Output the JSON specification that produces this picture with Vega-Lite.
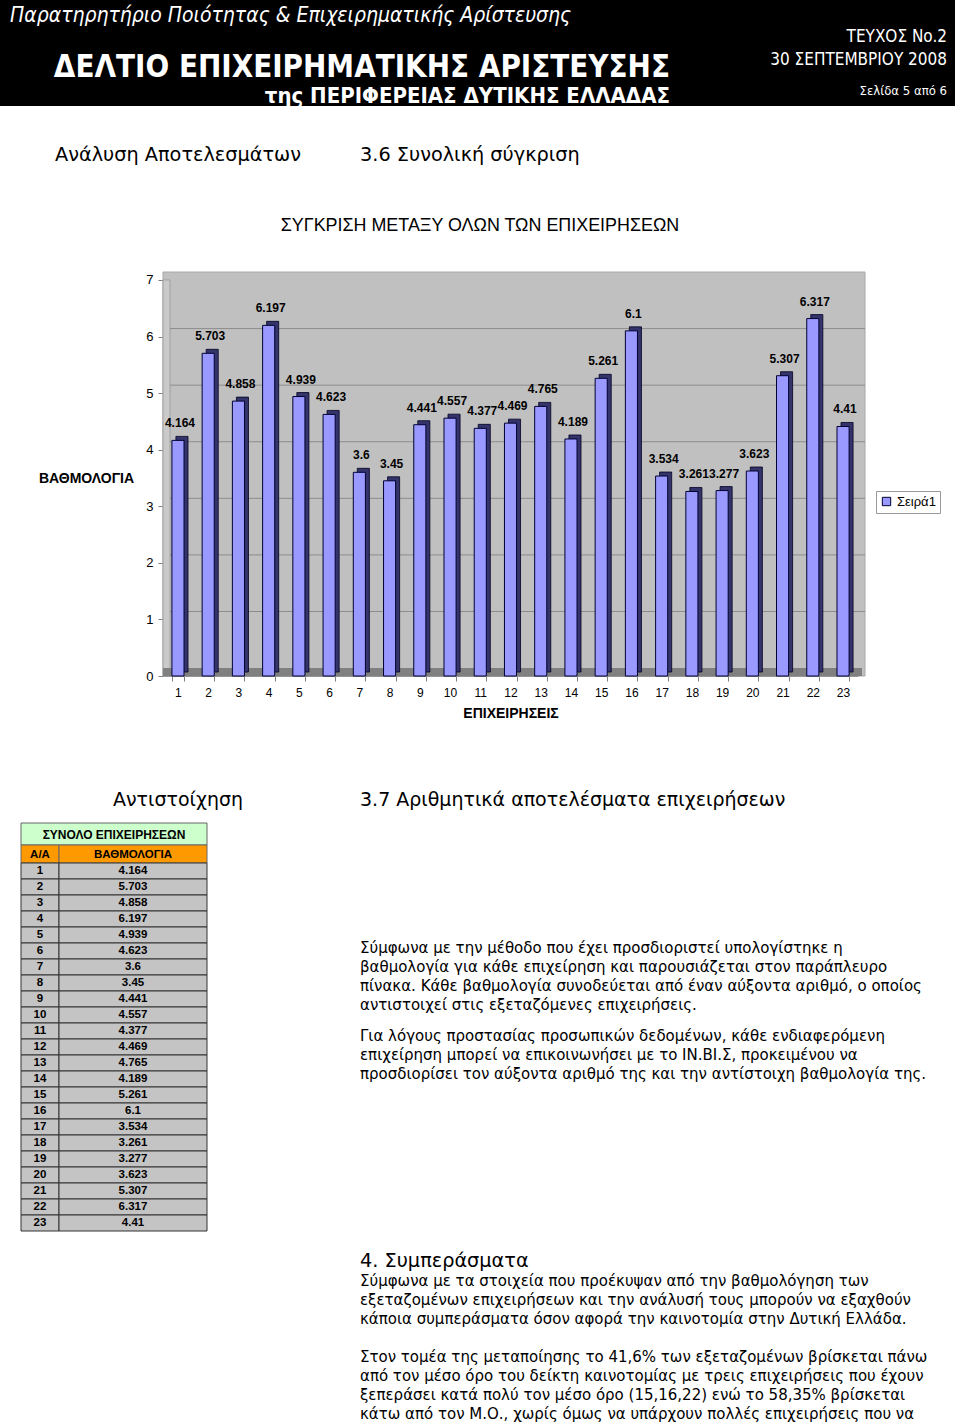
{
  "$schema": "https://vega.github.io/schema/vega-lite/v6.json",
  "padding": 0,
  "spacing": 0,
  "bounds": "flush",
  "background": "white",
  "config": {
    "view": {"stroke": null},
    "font": "Liberation Sans",
    "axis": {"labelColor": "black", "titleColor": "black", "labelFont": "Liberation Sans", "titleFont": "Liberation Sans"}
  },
  "datasets": {
    "scores": [
      {"n": 1, "v": 4.164}, {"n": 2, "v": 5.703}, {"n": 3, "v": 4.858}, {"n": 4, "v": 6.197},
      {"n": 5, "v": 4.939}, {"n": 6, "v": 4.623}, {"n": 7, "v": 3.6}, {"n": 8, "v": 3.45},
      {"n": 9, "v": 4.441}, {"n": 10, "v": 4.557}, {"n": 11, "v": 4.377}, {"n": 12, "v": 4.469},
      {"n": 13, "v": 4.765}, {"n": 14, "v": 4.189}, {"n": 15, "v": 5.261}, {"n": 16, "v": 6.1},
      {"n": 17, "v": 3.534}, {"n": 18, "v": 3.261}, {"n": 19, "v": 3.277}, {"n": 20, "v": 3.623},
      {"n": 21, "v": 5.307}, {"n": 22, "v": 6.317}, {"n": 23, "v": 4.41}
    ]
  },
  "vconcat": [
    {
      "width": 955,
      "height": 106,
      "view": {"fill": "black", "stroke": null},
      "data": {"values": [{}]},
      "layer": [
        {"mark": {"type": "text", "text": "Παρατηρητήριο Ποιότητας & Επιχειρηματικής Αρίστευσης", "x": 10, "y": 16, "align": "left", "baseline": "middle", "font": "DejaVu Sans Condensed", "fontStyle": "italic", "fontSize": 21, "color": "white"}},
        {"mark": {"type": "text", "text": "ΔΕΛΤΙΟ ΕΠΙΧΕΙΡΗΜΑΤΙΚΗΣ ΑΡΙΣΤΕΥΣΗΣ", "x": 670, "y": 68, "align": "right", "baseline": "middle", "font": "DejaVu Sans Condensed", "fontWeight": "bold", "fontSize": 31, "color": "white"}},
        {"mark": {"type": "text", "text": "της ΠΕΡΙΦΕΡΕΙΑΣ ΔΥΤΙΚΗΣ ΕΛΛΑΔΑΣ", "x": 670, "y": 96, "align": "right", "baseline": "middle", "font": "DejaVu Sans Condensed", "fontWeight": "bold", "fontSize": 22, "color": "white"}},
        {"mark": {"type": "text", "text": "ΤΕΥΧΟΣ No.2", "x": 947, "y": 37, "align": "right", "baseline": "middle", "font": "DejaVu Sans Condensed", "fontSize": 17, "color": "white"}},
        {"mark": {"type": "text", "text": "30 ΣΕΠΤΕΜΒΡΙΟΥ 2008", "x": 947, "y": 60, "align": "right", "baseline": "middle", "font": "DejaVu Sans Condensed", "fontSize": 17, "color": "white"}},
        {"mark": {"type": "text", "text": "Σελίδα 5 από 6", "x": 947, "y": 91, "align": "right", "baseline": "middle", "font": "DejaVu Sans Condensed", "fontSize": 13, "color": "white"}}
      ]
    },
    {
      "width": 960,
      "height": 166,
      "data": {"values": [{}]},
      "layer": [
        {"mark": {"type": "text", "text": "Ανάλυση Αποτελεσμάτων", "x": 55, "y": 49, "align": "left", "baseline": "middle", "font": "DejaVu Sans", "fontSize": 19.3, "color": "black"}},
        {"mark": {"type": "text", "text": "3.6 Συνολική σύγκριση", "x": 360, "y": 49, "align": "left", "baseline": "middle", "font": "DejaVu Sans", "fontSize": 19.3, "color": "black"}},
        {"mark": {"type": "text", "text": "ΣΥΓΚΡΙΣΗ ΜΕΤΑΞΥ ΟΛΩΝ ΤΩΝ ΕΠΙΧΕΙΡΗΣΕΩΝ", "x": 480, "y": 120, "align": "center", "baseline": "middle", "font": "Liberation Sans", "fontSize": 17.9, "color": "black"}}
      ]
    },
    {
      "width": 960,
      "height": 404,
      "layer": [
        {"data": {"values": [{}]}, "mark": {"type": "rect", "color": "#c0c0c0", "stroke": "#a8a8a8", "strokeWidth": 1, "x": 163, "x2": 865}, "encoding": {"y": {"datum": 7.14, "type": "quantitative", "scale": {"domain": [0, 7.14], "nice": false, "zero": true}}, "y2": {"datum": 0}}},
        {"data": {"values": [{}]}, "mark": {"type": "rect", "color": "#cacaca", "stroke": "#a0a0a0", "strokeWidth": 1, "x": 163, "x2": 170}, "encoding": {"y": {"datum": 7, "type": "quantitative"}, "y2": {"datum": 0}}},
        {"data": {"values": [{}]}, "mark": {"type": "rule", "color": "#8c8c8c", "x": 170, "x2": 865}, "encoding": {"y": {"datum": 1.14, "type": "quantitative"}}},
        {"data": {"values": [{}]}, "mark": {"type": "rule", "color": "#8c8c8c", "x": 170, "x2": 865}, "encoding": {"y": {"datum": 2.14, "type": "quantitative"}}},
        {"data": {"values": [{}]}, "mark": {"type": "rule", "color": "#8c8c8c", "x": 170, "x2": 865}, "encoding": {"y": {"datum": 3.14, "type": "quantitative"}}},
        {"data": {"values": [{}]}, "mark": {"type": "rule", "color": "#8c8c8c", "x": 170, "x2": 865}, "encoding": {"y": {"datum": 4.14, "type": "quantitative"}}},
        {"data": {"values": [{}]}, "mark": {"type": "rule", "color": "#8c8c8c", "x": 170, "x2": 865}, "encoding": {"y": {"datum": 5.14, "type": "quantitative"}}},
        {"data": {"values": [{}]}, "mark": {"type": "rule", "color": "#8c8c8c", "x": 170, "x2": 865}, "encoding": {"y": {"datum": 6.14, "type": "quantitative"}}},
        {"data": {"values": [{}]}, "mark": {"type": "rect", "color": "#808080", "x": 163, "x2": 862}, "encoding": {"y": {"datum": 0.14, "type": "quantitative"}, "y2": {"datum": 0}}},
        {
          "data": {"name": "scores"},
          "mark": {"type": "bar", "fill": "#34346a", "xOffset": 4, "yOffset": -4, "stroke": "#000022", "strokeWidth": 0.8},
          "encoding": {
            "x": {
              "field": "n", "type": "ordinal",
              "scale": {"range": [163, 858], "paddingInner": 0.6, "paddingOuter": 0.295},
              "axis": {"title": "ΕΠΙΧΕΙΡΗΣΕΙΣ", "labelAngle": 0, "labelFontSize": 12, "bandPosition": 0.5, "ticks": true, "tickBand": "extent", "tickSize": 5, "labelPadding": 6, "tickColor": "#808080", "domainColor": "#808080", "titleFontSize": 14, "titleFontWeight": "bold", "titlePadding": 8}
            },
            "y": {
              "field": "v", "type": "quantitative",
              "axis": {"title": "ΒΑΘΜΟΛΟΓΙΑ", "offset": -163, "values": [0, 1, 2, 3, 4, 5, 6, 7], "format": "d", "grid": false, "labelFontSize": 13, "tickSize": 5, "labelPadding": 5, "tickColor": "#808080", "domainColor": "#808080", "titleAngle": 0, "titleX": -77, "titleY": 206, "titleAlign": "center", "titleBaseline": "middle", "titleFontSize": 14, "titleFontWeight": "bold"}
            }
          }
        },
        {
          "data": {"name": "scores"},
          "mark": {"type": "bar", "stroke": "#000033", "strokeWidth": 1},
          "encoding": {
            "x": {
              "field": "n", "type": "ordinal",
              "scale": {"range": [163, 858], "paddingInner": 0.6, "paddingOuter": 0.295},
              "axis": {"title": "ΕΠΙΧΕΙΡΗΣΕΙΣ", "labelAngle": 0, "labelFontSize": 12, "bandPosition": 0.5, "ticks": true, "tickBand": "extent", "tickSize": 5, "labelPadding": 6, "tickColor": "#808080", "domainColor": "#808080", "titleFontSize": 14, "titleFontWeight": "bold", "titlePadding": 8}
            },
            "y": {
              "field": "v", "type": "quantitative",
              "axis": {"title": "ΒΑΘΜΟΛΟΓΙΑ", "offset": -163, "values": [0, 1, 2, 3, 4, 5, 6, 7], "format": "d", "grid": false, "labelFontSize": 13, "tickSize": 5, "labelPadding": 5, "tickColor": "#808080", "domainColor": "#808080", "titleAngle": 0, "titleX": -77, "titleY": 206, "titleAlign": "center", "titleBaseline": "middle", "titleFontSize": 14, "titleFontWeight": "bold"}
            },
            "color": {
              "datum": "Σειρά1",
              "scale": {"range": ["#9999ff"]},
              "legend": {"orient": "none", "legendX": 876, "legendY": 491, "title": null, "strokeColor": "#999999", "padding": 4, "symbolType": "square", "symbolSize": 70, "symbolStrokeColor": "#000033", "symbolStrokeWidth": 1, "labelFontSize": 13, "labelFont": "Liberation Sans", "labelColor": "black"}
            }
          }
        },
        {
          "data": {"name": "scores"},
          "mark": {"type": "text", "dy": -13, "dx": 2, "baseline": "alphabetic", "fontWeight": "bold", "fontSize": 12, "font": "Liberation Sans", "color": "black"},
          "encoding": {
            "x": {
              "field": "n", "type": "ordinal",
              "scale": {"range": [163, 858], "paddingInner": 0.6, "paddingOuter": 0.295},
              "axis": {"title": "ΕΠΙΧΕΙΡΗΣΕΙΣ", "labelAngle": 0, "labelFontSize": 12, "bandPosition": 0.5, "ticks": true, "tickBand": "extent", "tickSize": 5, "labelPadding": 6, "tickColor": "#808080", "domainColor": "#808080", "titleFontSize": 14, "titleFontWeight": "bold", "titlePadding": 8}
            },
            "y": {
              "field": "v", "type": "quantitative",
              "axis": {"title": "ΒΑΘΜΟΛΟΓΙΑ", "offset": -163, "values": [0, 1, 2, 3, 4, 5, 6, 7], "format": "d", "grid": false, "labelFontSize": 13, "tickSize": 5, "labelPadding": 5, "tickColor": "#808080", "domainColor": "#808080", "titleAngle": 0, "titleX": -77, "titleY": 206, "titleAlign": "center", "titleBaseline": "middle", "titleFontSize": 14, "titleFontWeight": "bold"}
            },
            "text": {"field": "v", "type": "nominal"}
          }
        }
      ]
    },
    {
      "width": 960,
      "height": 749,
      "data": {"values": [{}]},
      "layer": [
        {"mark": {"type": "text", "text": "Αντιστοίχηση", "x": 178, "y": 124, "align": "center", "baseline": "middle", "font": "DejaVu Sans", "fontSize": 19, "color": "black"}},
        {"mark": {"type": "text", "text": "3.7 Αριθμητικά αποτελέσματα επιχειρήσεων", "x": 360, "y": 124, "align": "left", "baseline": "middle", "font": "DejaVu Sans", "fontSize": 19, "color": "black"}},
        {"mark": {"type": "rect", "x": 21, "x2": 207, "y": 147, "y2": 169, "fill": "#ccffcc", "stroke": "#666666", "strokeWidth": 1}},
        {"mark": {"type": "rect", "x": 21, "x2": 59, "y": 169, "y2": 187, "fill": "#ff9900", "stroke": "#666666", "strokeWidth": 1}},
        {"mark": {"type": "rect", "x": 59, "x2": 207, "y": 169, "y2": 187, "fill": "#ff9900", "stroke": "#666666", "strokeWidth": 1}},
        {"mark": {"type": "text", "text": "ΣΥΝΟΛΟ ΕΠΙΧΕΙΡΗΣΕΩΝ", "x": 114, "y": 158.5, "align": "center", "baseline": "middle", "font": "Liberation Sans", "fontWeight": "bold", "fontSize": 12, "color": "black"}},
        {"mark": {"type": "text", "text": "Α/Α", "x": 40, "y": 178.5, "align": "center", "baseline": "middle", "font": "Liberation Sans", "fontWeight": "bold", "fontSize": 11.5, "color": "black"}},
        {"mark": {"type": "text", "text": "ΒΑΘΜΟΛΟΓΙΑ", "x": 133, "y": 178.5, "align": "center", "baseline": "middle", "font": "Liberation Sans", "fontWeight": "bold", "fontSize": 11.5, "color": "black"}},
        {
          "data": {"name": "scores"},
          "encoding": {"y": {"field": "n", "type": "ordinal", "scale": {"range": [187, 555], "paddingInner": 0, "paddingOuter": 0}, "axis": null}},
          "layer": [
            {"mark": {"type": "rect", "x": 21, "x2": 59, "fill": "#c4c4c4", "stroke": "#333333", "strokeWidth": 1}},
            {"mark": {"type": "rect", "x": 59, "x2": 207, "fill": "#c4c4c4", "stroke": "#333333", "strokeWidth": 1}},
            {"mark": {"type": "text", "x": 40, "align": "center", "baseline": "middle", "font": "Liberation Sans", "fontWeight": "bold", "fontSize": 11.5, "color": "black"}, "encoding": {"text": {"field": "n", "type": "nominal"}}},
            {"mark": {"type": "text", "x": 133, "align": "center", "baseline": "middle", "font": "Liberation Sans", "fontWeight": "bold", "fontSize": 11.5, "color": "black"}, "encoding": {"text": {"field": "v", "type": "nominal"}}}
          ]
        },
        {"mark": {"type": "text", "x": 360, "y": 277, "align": "left", "baseline": "alphabetic", "lineHeight": 19, "font": "DejaVu Sans", "fontSize": 15, "color": "black",
          "text": ["Σύμφωνα με την μέθοδο που έχει προσδιοριστεί υπολογίστηκε η", "βαθμολογία για κάθε επιχείρηση και παρουσιάζεται στον παράπλευρο", "πίνακα. Κάθε βαθμολογία συνοδεύεται από έναν αύξοντα αριθμό, ο οποίος", "αντιστοιχεί στις εξεταζόμενες επιχειρήσεις."]}},
        {"mark": {"type": "text", "x": 360, "y": 365, "align": "left", "baseline": "alphabetic", "lineHeight": 19, "font": "DejaVu Sans", "fontSize": 15, "color": "black",
          "text": ["Για λόγους προστασίας προσωπικών δεδομένων, κάθε ενδιαφερόμενη", "επιχείρηση μπορεί να επικοινωνήσει με το ΙΝ.ΒΙ.Σ, προκειμένου να", "προσδιορίσει τον αύξοντα αριθμό της και την αντίστοιχη βαθμολογία της."]}},
        {"mark": {"type": "text", "x": 360, "y": 591, "align": "left", "baseline": "alphabetic", "font": "DejaVu Sans", "fontSize": 19.3, "color": "black", "text": "4. Συμπεράσματα"}},
        {"mark": {"type": "text", "x": 360, "y": 610, "align": "left", "baseline": "alphabetic", "lineHeight": 19, "font": "DejaVu Sans", "fontSize": 15, "color": "black",
          "text": ["Σύμφωνα με τα στοιχεία που προέκυψαν από την βαθμολόγηση των", "εξεταζομένων επιχειρήσεων και την ανάλυσή τους μπορούν να εξαχθούν", "κάποια συμπεράσματα όσον αφορά την καινοτομία στην Δυτική Ελλάδα."]}},
        {"mark": {"type": "text", "x": 360, "y": 686, "align": "left", "baseline": "alphabetic", "lineHeight": 19, "font": "DejaVu Sans", "fontSize": 15, "color": "black",
          "text": ["Στον τομέα της μεταποίησης το 41,6% των εξεταζομένων βρίσκεται πάνω", "από τον μέσο όρο του δείκτη καινοτομίας με τρεις επιχειρήσεις που έχουν", "ξεπεράσει κατά πολύ τον μέσο όρο (15,16,22) ενώ το 58,35% βρίσκεται", "κάτω από τον Μ.Ο., χωρίς όμως να υπάρχουν πολλές επιχειρήσεις που να"]}}
      ]
    }
  ]
}
